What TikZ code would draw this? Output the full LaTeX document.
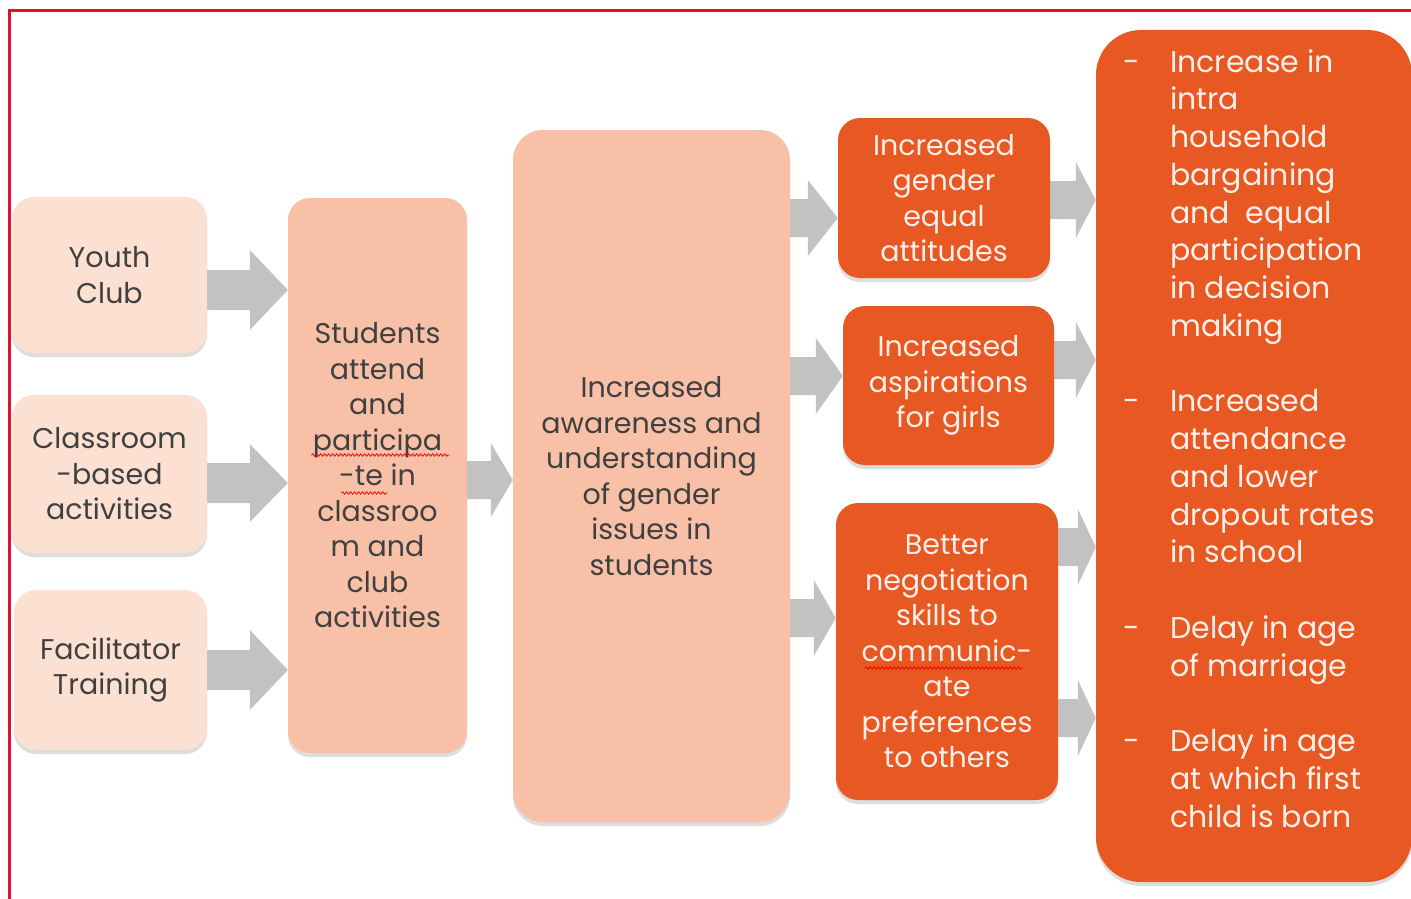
\documentclass[tikz,border=0pt]{standalone}
\usepackage{fontspec}
\setmainfont{Poppins}
\usetikzlibrary{calc,shadows,decorations.pathmorphing}
\pgfdeclarelayer{background}
\pgfsetlayers{background,main}
\definecolor{peach}{HTML}{FCE1D3}
\definecolor{salmon}{HTML}{F8C1A7}
\definecolor{orng}{HTML}{E85822}
\definecolor{agray}{HTML}{C2C2C2}
\definecolor{framered}{HTML}{E0102F}
\definecolor{dtext}{HTML}{404040}
\definecolor{ltext}{HTML}{FDF0EA}
\newcommand\bitem[1]{\makebox[47pt][l]{-}#1}
\newcommand\iitem[1]{\hspace*{47pt}#1}
\newcommand\garrow[6]{%
  \fill[agray] let \p1=(#1.east |- 0,#3), \p2=(#2.west |- 0,#3) in
   (\x1,{\y1+#4pt}) -- ({\x2-#6pt},{\y1+#4pt}) -- ({\x2-#6pt},{\y1+#5pt}) -- (\x2,\y1)
   -- ({\x2-#6pt},{\y1-#5pt}) -- ({\x2-#6pt},{\y1-#4pt}) -- (\x1,{\y1-#4pt}) -- cycle;}
\tikzset{
  boxbase/.style={rounded corners=22pt, inner sep=0pt, align=center,
    drop shadow={shadow xshift=0pt, shadow yshift=-4pt, opacity=.22, fill=black!60},
    font=\fontsize{28.5}{35.5}\selectfont},
  inbox/.style={boxbase, fill=peach, text=dtext},
  midbox/.style={boxbase, fill=salmon, text=dtext},
  outbox/.style={boxbase, fill=orng, text=ltext},
  spellwave/.style={draw=red, line width=0.8pt, decorate,
    decoration={snake, amplitude=1.2pt, segment length=4pt}},
}
\begin{document}
\begin{tikzpicture}[x=1pt,y=-1pt]
\useasboundingbox (0,0) rectangle (1411,899);
\draw[framered, line width=3pt] (9.5,900) -- (9.5,11) -- (1413,11);

\node[inbox, minimum width=195pt, minimum height=156pt] (yc) at (109.5,275) {Youth\\Club};
\node[inbox, minimum width=195pt, minimum height=158pt] (cl) at (109.5,474) {Classroom\\-based\\activities};
\node[inbox, minimum width=193pt, minimum height=160pt] (fa) at (110.5,670) {Facilitator\\Training};
\node[midbox, minimum width=179pt, minimum height=555pt] (st) at (377.5,475.5)
  {Students\\attend\\and\\participa\\-te in\\classroo\\m and\\club\\activities};
\node[midbox, rounded corners=30pt, minimum width=277pt, minimum height=692pt] (aw) at (651.5,476)
  {Increased\\awareness and\\understanding\\of gender\\issues in\\students};
\node[outbox, minimum width=212pt, minimum height=160pt] (ge) at (944,198)
  {Increased\\gender\\equal\\attitudes};
\node[outbox, minimum width=211pt, minimum height=159pt] (as) at (948.5,385.5)
  {Increased\\aspirations\\for girls};
\node[outbox, minimum width=222pt, minimum height=297pt] (ne) at (947,651.5)
  {Better\\negotiation\\skills to\\communic-\\ate\\preferences\\to others};
\node[outbox, rounded corners=45pt, minimum width=316pt, minimum height=852pt] (bg) at (1254,456) {};
\node[anchor=north west, inner sep=0pt, align=left, text=ltext,
  font=\fontsize{30}{37.75}\selectfont] (bgt) at (1123,49)
  {\bitem{Increase in}\\ \iitem{intra}\\ \iitem{household}\\ \iitem{bargaining}\\
   \iitem{and\ \ equal}\\ \iitem{participation}\\ \iitem{in decision}\\ \iitem{making}\\[37.75pt]
   \bitem{Increased}\\ \iitem{attendance}\\ \iitem{and lower}\\ \iitem{dropout rates}\\ \iitem{in school}\\[37.75pt]
   \bitem{Delay in age}\\ \iitem{of marriage}\\[37.75pt]
   \bitem{Delay in age}\\ \iitem{at which first}\\ \iitem{child is born}};

\draw[spellwave] ($(st.center)+(-66,-20.5)$) -- ($(st.center)+(72,-20.5)$);
\draw[spellwave] ($(st.center)+(-36,17.5)$) -- ($(st.center)+(10,17.5)$);
\draw[spellwave] ($(ne.center)+(-82,16.5)$) -- ($(ne.center)+(76,16.5)$);

\begin{pgfonlayer}{background}
\fill[white] (0,0) rectangle (1411,899);
\garrow{yc}{st}{290}{20}{40}{38}
\garrow{cl}{st}{483}{20}{39}{38}
\garrow{fa}{st}{670}{20}{40}{38}
\garrow{st}{aw}{480}{19}{37}{22}
\garrow{aw}{ge}{218}{19}{38}{30}
\garrow{aw}{as}{376}{19}{38}{27}
\garrow{aw}{ne}{618}{19}{38}{22}
\garrow{ge}{bg}{200}{19}{38}{20}
\garrow{as}{bg}{360}{19}{38}{20}
\garrow{ne}{bg}{547}{19}{38}{18}
\garrow{ne}{bg}{718}{19}{38}{18}
\end{pgfonlayer}
\end{tikzpicture}
\end{document}
